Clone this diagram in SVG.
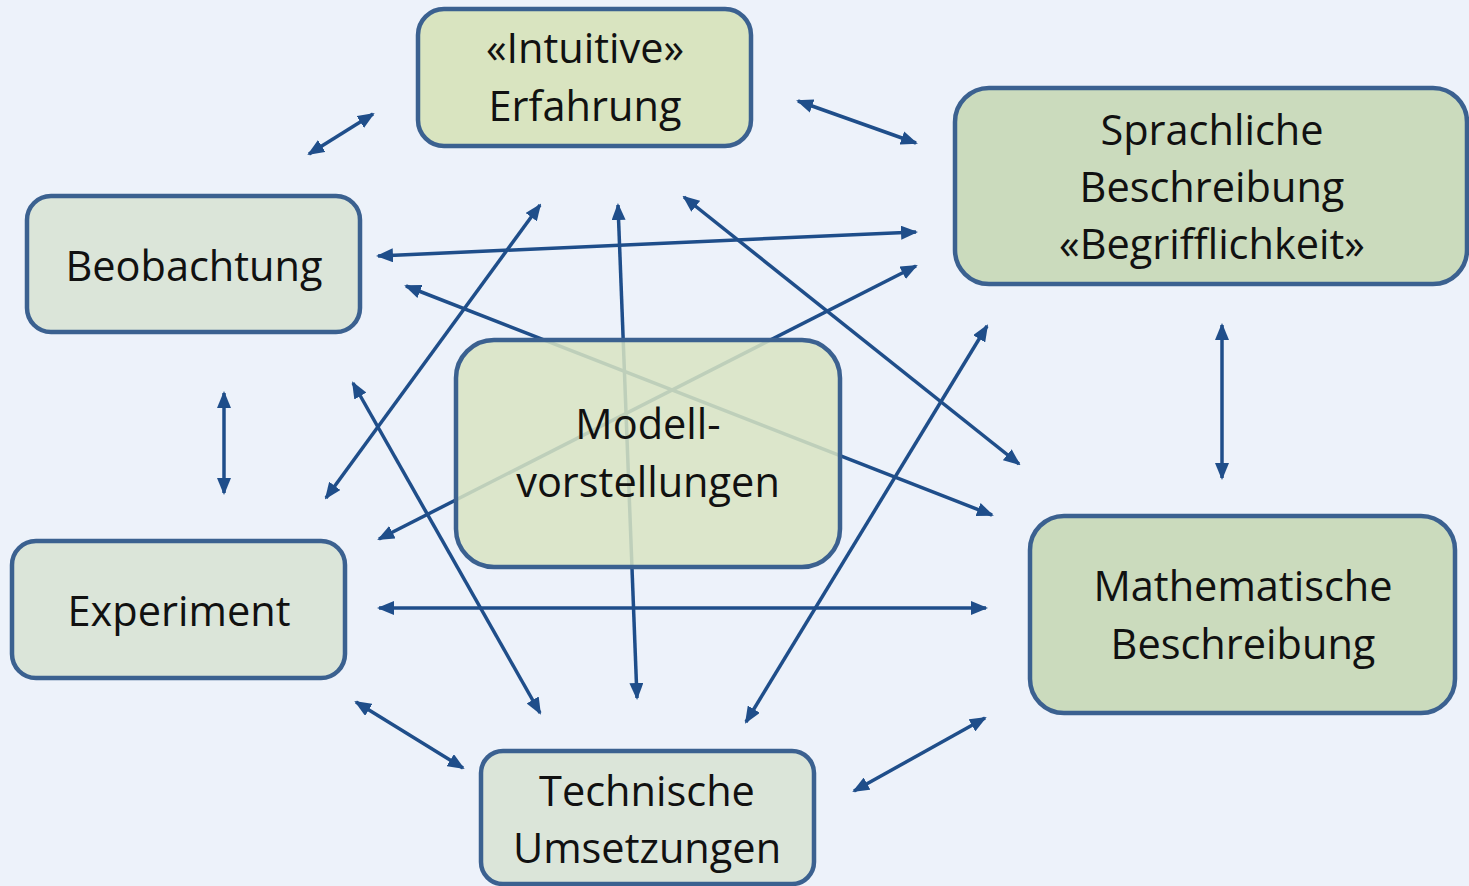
<svg xmlns="http://www.w3.org/2000/svg" width="1469" height="886" viewBox="0 0 1469 886">
<defs>
<style>
.box{stroke:#3b6190;stroke-width:4.5}
.c1{fill:#d9e4c0}
.c2{fill:#cbdbbd}
.c3{fill:#dbe5d9}
.cm{fill:#d9e4c3;fill-opacity:0.86}
.t{font-family:"Open Sans","Liberation Sans",sans-serif;font-size:41.5px;fill:#111;text-anchor:middle}
.ln{stroke:#1f4e8a;stroke-width:3.5;fill:none;marker-start:url(#ah);marker-end:url(#ah)}
</style>
<marker id="ah" markerUnits="userSpaceOnUse" viewBox="0 0 17 14" markerWidth="17" markerHeight="14" refX="15" refY="7" orient="auto-start-reverse">
<path d="M0,0 L17,7 L0,14 z" fill="#1f4e8a"/>
</marker>
</defs>
<rect width="1469" height="886" fill="#edf2fa"/>
<g id="connectors">
<line class="ln" x1="309" y1="154" x2="373" y2="114"/>
<line class="ln" x1="798" y1="101" x2="916" y2="143"/>
<line class="ln" x1="378" y1="256" x2="916" y2="232"/>
<line class="ln" x1="406" y1="286" x2="992" y2="515"/>
<line class="ln" x1="224" y1="393" x2="224" y2="493"/>
<line class="ln" x1="326" y1="498" x2="540" y2="205"/>
<line class="ln" x1="618" y1="205" x2="637" y2="698"/>
<line class="ln" x1="684" y1="197" x2="1019" y2="464"/>
<line class="ln" x1="379" y1="539" x2="916" y2="266"/>
<line class="ln" x1="353" y1="383" x2="540" y2="713"/>
<line class="ln" x1="379" y1="608" x2="986" y2="608"/>
<line class="ln" x1="1222" y1="325" x2="1222" y2="478"/>
<line class="ln" x1="746" y1="722" x2="987" y2="326"/>
<line class="ln" x1="356" y1="702" x2="463" y2="768"/>
<line class="ln" x1="854" y1="791" x2="985" y2="718"/>
</g>
<g id="intuitive">
<rect class="box c1" x="418" y="9" width="333" height="137" rx="26"/>
<text class="t" x="585" y="63">«Intuitive»</text>
<text class="t" x="585" y="121">Erfahrung</text>
</g>
<g id="sprachliche">
<rect class="box c2" x="955" y="88" width="512" height="196" rx="34"/>
<text class="t" x="1212" y="145">Sprachliche</text>
<text class="t" x="1212" y="202">Beschreibung</text>
<text class="t" x="1212" y="259">«Begrifflichkeit»</text>
</g>
<g id="beobachtung">
<rect class="box c3" x="27" y="196" width="333" height="136" rx="24"/>
<text class="t" x="194" y="281">Beobachtung</text>
</g>
<g id="modell">
<rect class="box cm" x="456" y="340" width="384" height="227" rx="38"/>
<text class="t" x="648" y="439">Modell-</text>
<text class="t" x="648" y="497">vorstellungen</text>
</g>
<g id="experiment">
<rect class="box c3" x="12" y="541" width="333" height="137" rx="24"/>
<text class="t" x="179" y="626">Experiment</text>
</g>
<g id="mathematische">
<rect class="box c2" x="1030" y="516" width="425" height="197" rx="34"/>
<text class="t" x="1243" y="601">Mathematische</text>
<text class="t" x="1243" y="659">Beschreibung</text>
</g>
<g id="technische">
<rect class="box c3" x="481" y="751" width="333" height="133" rx="22"/>
<text class="t" x="647" y="806">Technische</text>
<text class="t" x="647" y="863">Umsetzungen</text>
</g>
</svg>
